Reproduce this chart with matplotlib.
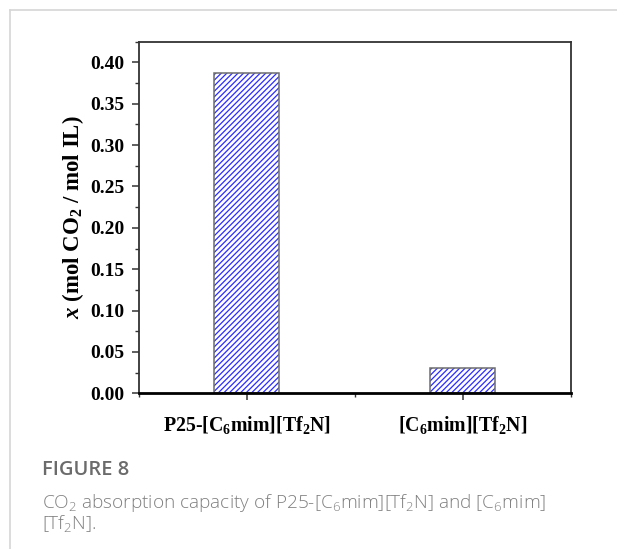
import matplotlib
matplotlib.use("Agg")
import matplotlib.pyplot as plt
from matplotlib.ticker import MultipleLocator

# данные
samples = ["P25-[C$_6$mim][Tf$_2$N]", "[C$_6$mim][Tf$_2$N]"]
capacity = [0.387, 0.030]

plt.rcParams["font.family"] = ["Liberation Serif", "DejaVu Serif"]
plt.rcParams["font.weight"] = "bold"
plt.rcParams["axes.labelweight"] = "bold"
plt.rcParams["mathtext.fontset"] = "custom"
plt.rcParams["mathtext.rm"] = "Liberation Serif:bold"
plt.rcParams["mathtext.it"] = "Liberation Serif:bold:italic"
plt.rcParams["mathtext.default"] = "regular"
plt.rcParams["hatch.linewidth"] = 0.9

fig = plt.figure(figsize=(6.17, 5.49), dpi=100)
ax = fig.add_axes([0.2245, 0.2836, 0.7009, 0.6404])

pos = list(range(len(samples)))
ax.bar(pos, capacity, width=0.3, color="white", edgecolor="#2b2bff", hatch="//////", linewidth=0)
ax.bar(pos, capacity, width=0.3, color="none", edgecolor="#6e6e6e", linewidth=1.1)

ax.set_xlim(-0.5, 1.5)
ax.set_ylim(0, 0.425)
ax.set_xticks(pos)
ax.set_xticklabels(samples)
ax.xaxis.set_minor_locator(MultipleLocator(0.5))
ax.yaxis.set_major_locator(MultipleLocator(0.05))
ax.yaxis.set_minor_locator(MultipleLocator(0.025))
ax.yaxis.set_major_formatter(plt.FormatStrFormatter("%.2f"))

ax.tick_params(which="major", direction="out", length=5, width=1.1, color="#333333")
ax.tick_params(which="minor", direction="out", length=3, width=1.0, color="#333333")
ax.tick_params(axis="y", labelsize=14, pad=5)
ax.tick_params(axis="x", labelsize=14.3, pad=10)

for s in ["left", "top", "right"]:
    ax.spines[s].set_linewidth(1.3)
    ax.spines[s].set_color("#333333")
ax.spines["bottom"].set_linewidth(2.0)
ax.spines["bottom"].set_color("black")

ax.set_ylabel("$\\mathit{x}$ (mol CO$_2$ / mol IL)", fontsize=16.5)
ax.yaxis.set_label_coords((73 - 138.5) / 432.5, 0.5)
ax.yaxis.label.set_verticalalignment("center")

# рамка карточки
fig.add_artist(plt.Line2D([9.5 / 617, 9.5 / 617], [0, 1 - 9.5 / 549], color="#d6d6d6", lw=1.2))
fig.add_artist(plt.Line2D([9.5 / 617, 1], [1 - 9.5 / 549, 1 - 9.5 / 549], color="#d6d6d6", lw=1.2))

fig.text(41.7 / 617, 1 - 470 / 549, "FIGURE 8", fontsize=14.5, family="Open Sans",
         weight="semibold", color="#6b6b6b", va="center")
fig.text(41.7 / 617, 1 - 503 / 549,
         "CO$_2$ absorption capacity of P25-[C$_6$mim][Tf$_2$N] and [C$_6$mim]",
         fontsize=13.7, family="Open Sans", weight="light", color="#808080", va="center")
fig.text(41.7 / 617, 1 - 523 / 549, "[Tf$_2$N].",
         fontsize=13.7, family="Open Sans", weight="light", color="#808080", va="center")

fig.savefig("out.png", dpi=100)
